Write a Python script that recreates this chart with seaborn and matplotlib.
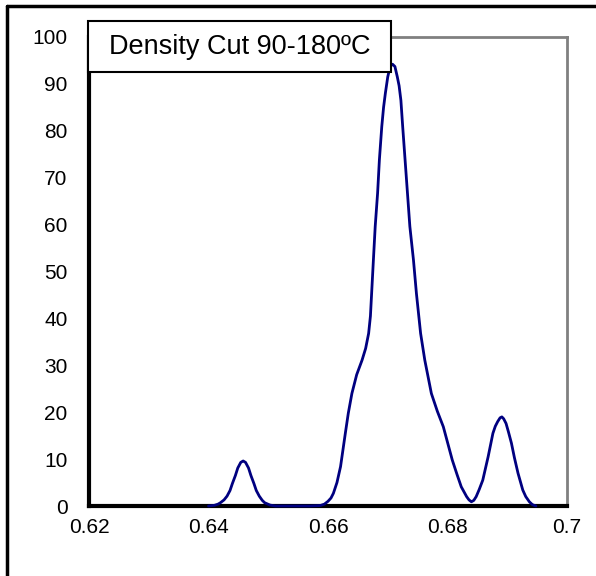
import matplotlib
matplotlib.use("Agg")
import matplotlib.pyplot as plt
import seaborn as sns
import pandas as pd
from matplotlib.patches import Rectangle
from matplotlib.lines import Line2D

title = "Density Cut 90-180ºC"

density = [0.6400, 0.6410, 0.6416, 0.6420, 0.6426, 0.6431, 0.6436, 0.6440, 0.6445,
           0.6449, 0.6454, 0.6458, 0.6462, 0.6467, 0.6471, 0.6476, 0.6480, 0.6485,
           0.6490, 0.6494, 0.6503, 0.6512, 0.6540, 0.6570, 0.6587, 0.6594, 0.6600,
           0.6605, 0.6609, 0.6615, 0.6621, 0.6629, 0.6634, 0.6640, 0.6648, 0.6657,
           0.6663, 0.6668, 0.6671, 0.6673, 0.6676, 0.6679, 0.6683, 0.6686, 0.6690,
           0.6693, 0.6696, 0.6700, 0.6704, 0.6708, 0.6712, 0.6716, 0.6719, 0.6722,
           0.6725, 0.6729, 0.6733, 0.6737, 0.6743, 0.6748, 0.6755, 0.6762, 0.6773,
           0.6783, 0.6793, 0.6808, 0.6816, 0.6823, 0.6832, 0.6836, 0.6840, 0.6844,
           0.6848, 0.6853, 0.6859, 0.6868, 0.6876, 0.6880, 0.6884, 0.6888, 0.6891,
           0.6894, 0.6898, 0.6902, 0.6907, 0.6912, 0.6918, 0.6926, 0.6931, 0.6937,
           0.6942, 0.6948]
frequency = [0.0, 0.15, 0.4, 0.7, 1.3, 2.1, 3.3, 4.8, 6.5,
             8.1, 9.3, 9.6, 9.3, 8.1, 6.5, 4.8, 3.3, 2.1,
             1.2, 0.7, 0.2, 0.0, 0.0, 0.0, 0.1, 0.4, 1.0,
             1.7, 2.7, 5.0, 8.4, 15.5, 19.8, 24.0, 28.0, 31.1,
             33.6, 36.8, 40.5, 45.3, 52.5, 59.6, 66.7, 73.8, 80.9,
             85.0, 88.0, 91.5, 93.7, 94.2, 93.7, 91.5, 89.6, 86.5,
             80.9, 73.8, 66.7, 59.6, 52.5, 45.3, 36.8, 31.1, 24.0,
             20.2, 16.9, 9.8, 6.7, 4.1, 2.0, 1.3, 0.9, 1.2,
             2.0, 3.5, 5.5, 10.5, 15.5, 17.0, 18.0, 18.8, 19.0,
             18.6, 17.6, 15.8, 13.4, 10.3, 7.0, 3.4, 2.0, 0.9,
             0.3, 0.0]

x_ticks = [0.62, 0.64, 0.66, 0.68, 0.70]
x_labels = ["0.62", "0.64", "0.66", "0.68", "0.7"]
y_ticks = [0, 10, 20, 30, 40, 50, 60, 70, 80, 90, 100]

df = pd.DataFrame({"density": density, "frequency": frequency})

sns.set_style("white")
plt.rcParams["font.family"] = ["Liberation Sans", "DejaVu Sans"]

W, H = 596, 576
fig = plt.figure(figsize=(W / 100, H / 100), dpi=100)
fig.patch.set_facecolor("white")

left, right, top, bottom = 89, 567, 37, 506
ax = fig.add_axes([left / W, 1 - bottom / H, (right - left) / W, (bottom - top) / H])

sns.lineplot(data=df, x="density", y="frequency", ax=ax, color="#000080",
             linewidth=2.0, zorder=5, clip_on=False)

ax.set_xlim(0.62, 0.70)
ax.set_ylim(0, 100)
ax.set_xticks(x_ticks)
ax.set_xticklabels(x_labels)
ax.set_yticks(y_ticks)
ax.set_xlabel("")
ax.set_ylabel("")
ax.tick_params(axis="both", direction="out", length=5.5, width=1.5, color="black",
               labelsize=15, labelcolor="black")
ax.tick_params(axis="y", pad=10)
ax.tick_params(axis="x", pad=3)

for s in ["left", "bottom"]:
    ax.spines[s].set_color("black")
    ax.spines[s].set_linewidth(3)
    ax.spines[s].set_zorder(4)
for s in ["top", "right"]:
    ax.spines[s].set_color("#808080")
    ax.spines[s].set_linewidth(2)
for s in ax.spines.values():
    s.set_visible(True)

# outer chart frame (cropped)
fig.add_artist(Line2D([7 / W, 7 / W], [-0.05, 1 - 6 / H], transform=fig.transFigure,
                      color="black", linewidth=2.5))
fig.add_artist(Line2D([7 / W, 1.05], [1 - 6 / H, 1 - 6 / H], transform=fig.transFigure,
                      color="black", linewidth=2.5))

# title box
bx0, by0, bx1, by1 = 88, 21, 391, 72
fig.add_artist(Rectangle((bx0 / W, 1 - by1 / H), (bx1 - bx0) / W, (by1 - by0) / H,
                         transform=fig.transFigure, facecolor="white",
                         edgecolor="black", linewidth=1.5, zorder=10))
fig.text((bx0 + bx1) / 2 / W, 1 - (by0 + by1) / 2 / H, title, ha="center",
         va="center", fontsize=19.5, color="black", zorder=11)

fig.savefig("out.png", dpi=100)
